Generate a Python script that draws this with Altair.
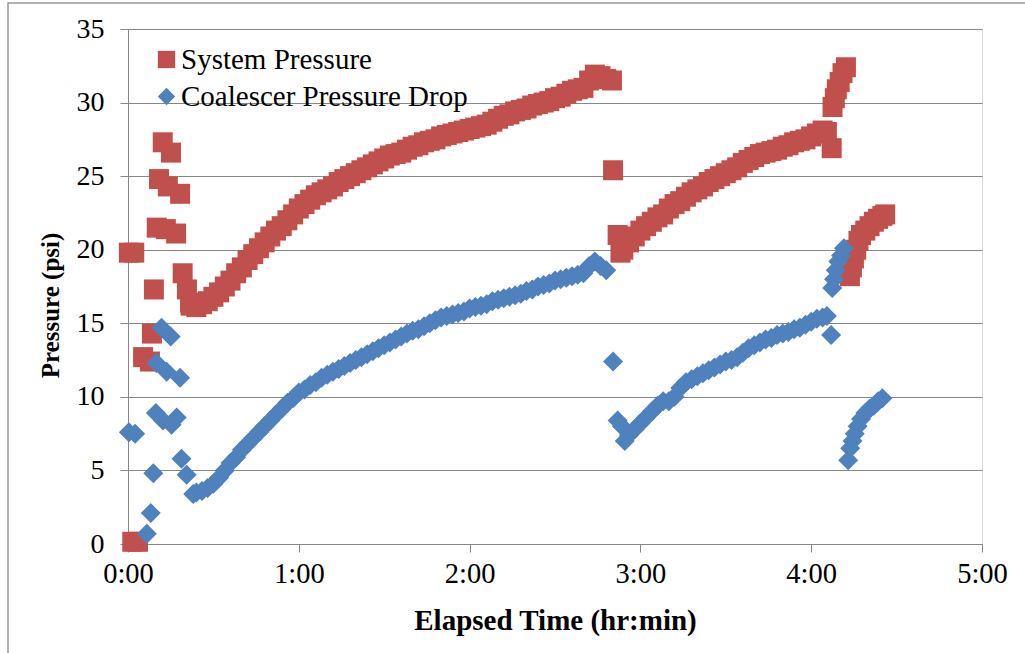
import altair as alt
import pandas as pd

# ---- System Pressure (minutes, psi) ----
sp_t = [0.3, 2.2, 1.5, 3.5, 5.3, 7.7, 8.4, 9.1, 10.1, 10.9, 12.2, 13.3, 14.0, 15.1, 16.9, 18.3, 19.2, 20.7, 21.8,
        22, 24, 26, 28, 30, 32, 34, 36, 38, 40, 42, 44, 46, 48, 50, 52, 54, 56, 58, 60, 62, 64, 66, 68, 70,
        72, 74, 76, 78, 80, 82, 84, 86, 88, 90, 92, 94, 96, 98, 100, 102, 104, 106, 108, 110, 112, 114, 116,
        118, 120, 122, 124, 126, 128, 130, 132, 134, 136, 138, 140, 142, 144, 146, 148, 150, 152, 154, 156,
        158, 160, 162, 164, 166, 168, 170, 170.4,
        172, 173, 174, 176, 178, 180, 182, 184, 186, 188, 190, 192, 194, 196, 198, 200, 202, 204, 206, 208,
        210, 212, 214, 216, 218, 220, 222, 224, 226, 228, 230, 232, 234, 236, 238, 240, 242, 244, 245.5,
        247.2, 247.5, 248.3, 249, 250, 251, 252.2,
        253.6, 254.3, 255, 255.8, 256.6, 257.5, 259, 260.5, 262, 263.5, 265, 266]
sp_p = [19.8, 19.8, 0.15, 0.15, 12.7, 12.4, 14.3, 17.3, 21.5, 24.8, 27.3, 21.4, 24.3, 26.6, 21.1, 23.8, 18.4, 17.3, 16.4,
        16.2, 16.1, 16.3, 16.5, 16.8, 17.1, 17.5, 17.9, 18.4, 18.8, 19.3, 19.7, 20.1, 20.5, 20.9, 21.3, 21.6,
        22.0, 22.4, 22.8, 23.1, 23.4, 23.7, 23.9, 24.1, 24.3, 24.6, 24.8, 25.0, 25.2, 25.4, 25.6, 25.8, 26.0,
        26.2, 26.4, 26.5, 26.6, 26.8, 27.0, 27.1, 27.3, 27.4, 27.5, 27.7, 27.8, 27.9, 28.0, 28.1, 28.2, 28.3,
        28.4, 28.5, 28.7, 28.9, 29.1, 29.2, 29.4, 29.5, 29.6, 29.8, 29.9, 30.0, 30.1, 30.3, 30.4, 30.6, 30.8,
        30.9, 31.0, 31.5, 31.9, 31.8, 31.6, 31.5, 25.4,
        21.0, 19.8, 20.0, 20.5, 20.9, 21.3, 21.6, 21.9, 22.2, 22.4, 22.8, 23.1, 23.3, 23.6, 23.9, 24.1, 24.3,
        24.6, 24.8, 25.0, 25.2, 25.4, 25.6, 25.9, 26.1, 26.3, 26.5, 26.6, 26.7, 26.8, 27.0, 27.1, 27.3, 27.4,
        27.5, 27.7, 27.9, 28.1, 28.0,
        26.9, 29.7, 30.3, 30.9, 31.4, 32.0, 32.4,
        18.2, 18.8, 19.4, 20.0, 20.6, 21.0, 21.3, 21.6, 21.9, 22.1, 22.3, 22.4]

# ---- Coalescer Pressure Drop (minutes, psi) ----
cp_t = [0.3, 2.5, 6.6, 8.0, 8.9, 9.8, 12.3, 15.3, 17.1, 11.8, 15.0, 10.0, 13.6, 18.3, 18.8, 20.6, 22.9,
        24, 26, 28, 30, 32, 34, 36, 38, 40, 42, 44, 46, 48, 50, 52, 54, 56, 58, 60, 62, 64, 66, 68, 70, 72,
        74, 76, 78, 80, 82, 84, 86, 88, 90, 92, 94, 96, 98, 100, 102, 104, 106, 108, 110, 112, 114, 116, 118,
        120, 122, 124, 126, 128, 130, 132, 134, 136, 138, 140, 142, 144, 146, 148, 150, 152, 154, 156, 158,
        160, 162, 164, 166, 168,
        170.4, 172, 173.5, 174.5, 176, 178, 180, 182, 184, 186, 188, 190, 192, 194, 196, 198, 200, 202, 204,
        206, 208, 210, 212, 214, 216, 218, 220, 222, 224, 226, 228, 230, 232, 234, 236, 238, 240, 242, 244,
        245.5, 247, 247.4, 248, 248.6, 249.5, 250.5, 251.5,
        253, 253.7, 254.5, 255.3, 256.3, 257.5, 259, 260.5, 262, 263.5, 265]
cp_p = [7.6, 7.5, 0.7, 2.1, 4.8, 8.9, 8.4, 8.1, 8.6, 14.7, 14.1, 12.3, 11.7, 11.3, 5.8, 4.7, 3.4,
        3.5, 3.6, 3.8, 4.1, 4.5, 5.0, 5.5, 5.9, 6.4, 6.8, 7.2, 7.6, 8.0, 8.4, 8.8, 9.2, 9.6, 9.9, 10.3, 10.5,
        10.8, 11.0, 11.3, 11.5, 11.7, 11.9, 12.1, 12.3, 12.5, 12.7, 12.9, 13.1, 13.3, 13.5, 13.7, 13.9, 14.1,
        14.3, 14.5, 14.6, 14.8, 15.0, 15.2, 15.4, 15.5, 15.6, 15.7, 15.8, 16.0, 16.1, 16.2, 16.3, 16.5, 16.6,
        16.7, 16.8, 16.9, 17.0, 17.2, 17.3, 17.5, 17.6, 17.7, 17.9, 18.0, 18.1, 18.2, 18.3,
        18.4, 18.9, 19.2, 18.9, 18.6,
        12.4, 8.4, 8.0, 7.0, 7.4, 7.8, 8.2, 8.6, 9.0, 9.4, 9.7, 9.7, 10.0, 10.6, 11.0, 11.2, 11.4, 11.6, 11.8,
        12.0, 12.2, 12.4, 12.5, 12.7, 13.0, 13.3, 13.5, 13.7, 13.9, 14.0, 14.2, 14.3, 14.4, 14.6, 14.7, 14.9,
        15.1, 15.3, 15.4,
        15.5, 14.2, 17.4, 18.0, 18.6, 19.2, 19.6, 20.1,
        5.7, 6.5, 7.0, 7.5, 8.0, 8.5, 8.9, 9.2, 9.4, 9.7, 9.9]

series_names = ["System Pressure", "Coalescer Pressure Drop"]
series_colors = ["#C0504D", "#4F81BD"]
series_shapes = ["square", "diamond"]

x_ticks = [0, 60, 120, 180, 240, 300]
y_ticks = [0, 5, 10, 15, 20, 25, 30, 35]

df = pd.concat([
    pd.DataFrame({"t": sp_t, "psi": sp_p, "series": series_names[0]}),
    pd.DataFrame({"t": cp_t, "psi": cp_p, "series": series_names[1]}),
], ignore_index=True)

FONT = "Liberation Serif"
GRAY = "#878787"
W, H = 854, 515

leg = alt.Legend(title=None, orient="none", legendX=24, legendY=16,
                 labelFont=FONT, labelFontSize=29, labelColor="black",
                 symbolSize=300, rowPadding=7, labelOffset=0, padding=0,
                 symbolStrokeWidth=0, labelLimit=400)

points = alt.Chart(df).mark_point(filled=True, opacity=1, size=400, strokeWidth=0).encode(
    x=alt.X("t:Q", scale=alt.Scale(domain=[0, 300], nice=False, zero=False),
            axis=alt.Axis(values=x_ticks, labelExpr="floor(datum.value/60) + ':00'",
                          title="Elapsed Time (hr:min)", grid=False, gridOpacity=0, domainColor=GRAY,
                          tickColor=GRAY, tickSize=8, labelFont=FONT, labelFontSize=28.5,
                          labelColor="black", labelPadding=7, titleFont=FONT, titleFontSize=29,
                          titleFontWeight="bold", titleColor="black", titleBaseline="middle",
                          titleY=76, labelFlush=False)),
    y=alt.Y("psi:Q", scale=alt.Scale(domain=[0, 35], nice=False),
            axis=alt.Axis(values=y_ticks, title="Pressure (psi)", grid=True, gridColor=GRAY,
                          domainColor=GRAY, tickColor=GRAY, tickSize=8, labelFont=FONT,
                          labelFontSize=28, labelColor="black", labelPadding=16,
                          titleFont=FONT, titleFontSize=25, titleFontWeight="bold",
                          titleColor="black", titleX=-78, titleY=276, titleBaseline="middle")),
    color=alt.Color("series:N", scale=alt.Scale(domain=series_names, range=series_colors), legend=leg),
    shape=alt.Shape("series:N", scale=alt.Scale(domain=series_names, range=series_shapes), legend=leg),
)

border = alt.Chart(pd.DataFrame({"a": [0]})).mark_rect(
    fill="transparent", stroke="#9a9a9a", strokeWidth=1.5, clip=False
).encode(x=alt.value(-120), x2=alt.value(920), y=alt.value(-26), y2=alt.value(660))

chart = alt.layer(border, points).properties(
    width=W, height=H,
    padding={"left": 128, "top": 29, "right": 43, "bottom": 109},
    autosize=alt.AutoSizeParams(type="none"),
).configure_view(stroke=None).configure(background="white").configure_axisX(
    grid=False
).configure_legend(labelFont=FONT, labelFontSize=29, labelColor="black")

chart.save("out.html", embed_options={"renderer": "svg", "actions": False})
